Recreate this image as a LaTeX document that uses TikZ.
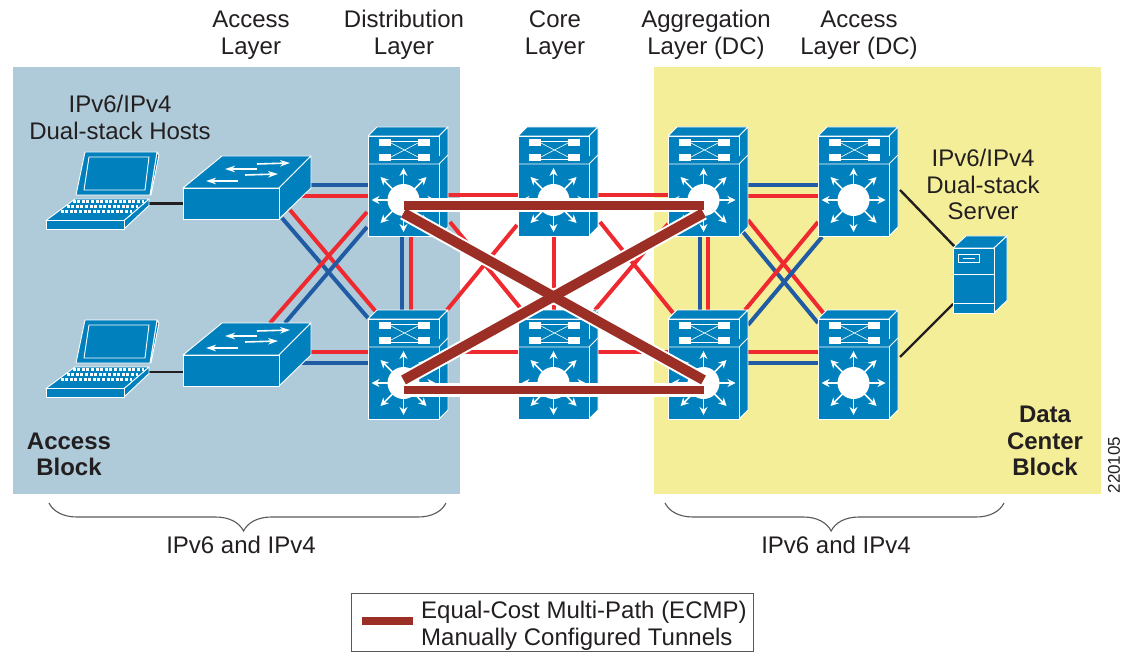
\documentclass[tikz,border=0pt]{standalone}
\usepackage{fontspec}
\setmainfont{Liberation Sans}
\usepackage{tikz}
\usetikzlibrary{positioning,arrows.meta,decorations.pathreplacing}
\definecolor{devblue}{HTML}{0080BC}
\definecolor{blockblue}{HTML}{AFCBD9}
\definecolor{blockyellow}{HTML}{F5EE99}
\definecolor{linkred}{HTML}{EE2A30}
\definecolor{linkblue}{HTML}{1F5CA3}
\definecolor{tunnelred}{HTML}{9C2F25}
\definecolor{inktext}{HTML}{231F20}
\tikzset{
     devface/.style={draw=white, fill=devblue, line width=0.9pt, line join=round},
     whitearrow/.style={draw=white, line width=1.6pt, {Stealth[length=8pt,width=8pt]}-{Stealth[length=8pt,width=8pt]}},
     onearrow/.style={draw=white, line width=1.6pt, -{Stealth[length=10pt,width=6.5pt]}},
     thinwhite/.style={draw=white, line width=0.6pt},
     pics/mlspic/.style={code={
        \draw[devface] (-35.5,-50) -- (-26.5,-59) -- (44.5,-59) -- (35.5,-50) -- cycle;
        \draw[devface] (35.5,-50) -- (44.5,-59) -- (44.5,41) -- (35.5,50) -- cycle;
        \draw[devface] (-35.5,-50) rectangle (35.5,50);
        \draw[devface] (-35.5,-22) -- (35.5,-22) -- (44.5,-31);
        \fill[white] (-24.5,-47) rectangle (-12.5,-40);
        \fill[white] (14.5,-47) rectangle (26.5,-40);
        \fill[white] (-24.5,-32) rectangle (-12.5,-25);
        \fill[white] (14.5,-32) rectangle (26.5,-25);
        \draw[thinwhite] (-12.5,-45) -- (14.5,-45);
        \draw[thinwhite] (-12.5,-27) -- (14.5,-27);
        \draw[thinwhite] (-12.5,-43) -- (14.5,-29);
        \draw[thinwhite] (-12.5,-29) -- (14.5,-43);
        \draw[whitearrow] (0,-18) -- (0,46);
        \draw[whitearrow] (-32,14) -- (32,14);
        \draw[whitearrow] (-23,-9) -- (23,37);
        \draw[whitearrow] (-23,37) -- (23,-9);
        \fill[white] (0,14) circle (16);
     }},
     pics/swpic/.style={code={
        \draw[devface] (-48,-15.5) -- (-9,-47.5) -- (80,-47.5) -- (48,-15.5) -- cycle;
        \draw[devface] (48,-15.5) -- (80,-47.5) -- (80,-15.5) -- (48,15.5) -- cycle;
        \draw[devface] (-48,-15.5) rectangle (48,15.5);
        \draw[onearrow] (26,-39.5) -- (59,-40.5);
        \draw[onearrow] (26,-34.5) -- (-6,-34.5);
        \draw[onearrow] (14,-28.5) -- (47,-29.5);
        \draw[onearrow] (7,-22.5) -- (-25,-22.5);
     }},
     pics/laptoppic/.style={code={
        \draw[devface] (54.5,-38.5) -- (56.5,-35.5) -- (48.5,4.5) -- (47.5,4.5) -- cycle;
        \draw[devface] (-17.5,-38.5) -- (54.5,-38.5) -- (47.5,4.5) -- (-26.5,4.5) -- cycle;
        \draw[thinwhite, line width=0.9pt] (-13.5,-33.5) -- (46.5,-33.5) -- (42.5,-0.5) -- (-18.5,-0.5) -- cycle;
        \draw[devface] (21.5,30) -- (46.5,8.5) -- (46.5,15) -- (21.5,38.5) -- cycle;
        \draw[devface] (-27.5,8.5) -- (46.5,8.5) -- (21.5,30) -- (-56.5,30) -- cycle;
        \draw[devface] (-56.5,30) rectangle (21.5,38.5);
        \draw[draw=white, line width=3pt, dash pattern=on 3pt off 1.6pt] (-30,11) -- (41,11);
        \draw[draw=white, line width=3pt, dash pattern=on 3pt off 1.6pt] (-36,16) -- (35,16);
        \draw[draw=white, line width=3pt, dash pattern=on 3pt off 1.6pt] (-42,21) -- (29,21);
     }},
     pics/serverpic/.style={code={
        \draw[devface] (-20.5,-32.5) -- (-7.5,-44.5) -- (33.5,-44.5) -- (20.5,-32.5) -- cycle;
        \draw[devface] (20.5,-32.5) -- (33.5,-44.5) -- (33.5,20) -- (20.5,32.5) -- cycle;
        \draw[devface] (-20.5,-32.5) rectangle (20.5,32.5);
        \draw[thinwhite, line width=1pt] (-20.5,-6.5) -- (20.5,-6.5);
        \draw[thinwhite, line width=1pt] (-20.5,22.5) -- (20.5,22.5);
        \draw[thinwhite, line width=0.8pt] (-15.5,-26.5) rectangle (5.5,-18.5);
        \draw[thinwhite, line width=0.8pt] (-11,-22.5) -- (1,-22.5);
     }}
     }
\tikzstyle{mls} = [rectangle, inner sep=0pt, outer sep=0pt, minimum width=71pt, minimum height=100pt]
\tikzstyle{sw} = [rectangle, inner sep=0pt, outer sep=0pt, minimum width=96pt, minimum height=31pt]
\tikzstyle{host} = [rectangle, inner sep=0pt, outer sep=0pt, minimum width=113pt, minimum height=77pt]
\tikzstyle{srv} = [rectangle, inner sep=0pt, outer sep=0pt, minimum width=41pt, minimum height=65pt]
\tikzstyle{redlink} = [draw=linkred, line width=4pt]
\tikzstyle{bluelink} = [draw=linkblue, line width=4pt]
\tikzstyle{lan} = [draw=inktext, line width=2.4pt]
\tikzstyle{tunnel} = [draw=tunnelred, line width=8.4pt]
\tikzstyle{crosstunnel} = [draw=tunnelred, line width=10pt]
\tikzstyle{halo} = [draw=white, line width=14pt]
\tikzstyle{lbl} = [text=inktext, align=center, inner sep=0pt, font=\fontsize{24}{26.6}\selectfont]
\tikzstyle{blocklbl} = [lbl, font=\fontsize{24}{26.6}\selectfont\bfseries]
\tikzstyle{bracket} = [draw=inktext!75, line width=1.1pt, decorate, decoration={brace, mirror, amplitude=28pt, aspect=0.49}]

\begin{document}
\begin{tikzpicture}[x=1pt,y=-1pt]
    \useasboundingbox (0,0) rectangle (1131,652);

    \node [fill=blockblue, minimum width=447pt, minimum height=427pt, inner sep=0pt] (accessArea) at (236.5,280.5) {};
    \node [fill=blockyellow, minimum width=447pt, minimum height=427pt, inner sep=0pt] (dcArea) at (877.5,280.5) {};

    \node [mls] (distT) at (403.5,186) {};
    \node [mls,right=79pt of distT] (coreT) {};
    \node [mls,right=79pt of coreT] (aggT) {};
    \node [mls,right=79pt of aggT] (accT) {};
    \node [mls,below=83pt of distT] (distB) {};
    \node [mls,below=83pt of coreT] (coreB) {};
    \node [mls,below=83pt of aggT] (aggB) {};
    \node [mls,below=83pt of accT] (accB) {};
    \node [sw] (swT) at (231,203.5) {};
    \node [sw,below=136pt of swT] (swB) {};
    \node [host] (hostT) at (102.5,190.5) {};
    \node [host,below=91pt of hostT] (hostB) {};
    \node [srv] (server) at (973.5,280.5) {};

    \node [lbl] (layerAccess) at (251,35.5) {Access\\Layer};
    \node [lbl] (layerDist) at (404,34.5) {Distribution\\Layer};
    \node [lbl] (layerCore) at (555,35) {Core\\Layer};
    \node [lbl] (layerAgg) at (706,34.5) {Aggregation\\Layer (DC)};
    \node [lbl] (layerDC) at (859,35.5) {Access\\Layer (DC)};
    \node [lbl] (hostsLabel) at (120,117.5) {IPv6/IPv4\\Dual-stack Hosts};
    \node [lbl] (serverLabel) at (983,184.5) {IPv6/IPv4\\Dual-stack\\Server};
    \node [blocklbl] (accessBlock) at (69,454.5) {Access\\Block};
    \node [blocklbl] (dcBlock) at (1045,441) {Data\\Center\\Block};
    \node [lbl] (ipLeft) at (241,545) {IPv6 and IPv4};
    \node [lbl] (ipRight) at (836,545) {IPv6 and IPv4};
    \node [lbl, rotate=90, font=\fontsize{17}{19}\selectfont] (figNumber) at (1114,465) {220105};

    % access block links
    \draw [lan] (hostT.center |- swT.center) -- (swT);
    \draw [lan] ([shift={(0,1.5)}]hostB.center |- swB.center) -- ([shift={(0,1.5)}]swB.center);
    \draw [bluelink] ([shift={(0,-18.5)}]swT.center) -- ([shift={(0,-1)}]distT.center);
    \draw [redlink] ([shift={(0,-7.5)}]swT.center) -- ([shift={(0,10)}]distT.center);
    \draw [redlink] ([shift={(0,-18.5)}]swB.center) -- ([shift={(0,-17)}]distB.center);
    \draw [bluelink] ([shift={(0,-7.5)}]swB.center) -- ([shift={(0,-6)}]distB.center);
    \draw [bluelink] ([shift={(51,14.5)}]swT.center) -- ([shift={(-35.5,-51)}]distB.center);
    \draw [redlink] ([shift={(59,6.5)}]swT.center) -- ([shift={(-26.5,-56)}]distB.center);
    \draw [bluelink] ([shift={(54,-47.5)}]swB.center) -- ([shift={(-36.5,41)}]distT.center);
    \draw [redlink] ([shift={(39,-47.5)}]swB.center) -- ([shift={(-36.5,26)}]distT.center);
    \draw [bluelink] ([shift={(-1.5,0)}]distT.center) -- ([shift={(-1.5,0)}]distB.center);
    \draw [redlink] ([shift={(7.5,0)}]distT.center) -- ([shift={(7.5,0)}]distB.center);

    % core links
    \draw [redlink] ([shift={(0,9)}]distT.center) -- ([shift={(0,9)}]aggT.center);
    \draw [redlink] ([shift={(0,-17)}]distB.center) -- ([shift={(0,-17)}]aggB.center);
    \draw [redlink] (coreT) -- (coreB);
    \draw [redlink] ([shift={(46.5,36)}]distT.center) -- ([shift={(-31.5,-59)}]coreB.center);
    \draw [redlink] ([shift={(-36.5,39)}]coreT.center) -- ([shift={(43.5,-59)}]distB.center);
    \draw [redlink] ([shift={(46.5,36)}]coreT.center) -- ([shift={(-30.5,-56)}]aggB.center);
    \draw [redlink] ([shift={(-35.5,38)}]aggT.center) -- ([shift={(41.5,-59)}]coreB.center);

    % data center links
    \draw [bluelink] ([shift={(0,-1)}]aggT.center) -- ([shift={(0,-1)}]accT.center);
    \draw [redlink] ([shift={(0,10)}]aggT.center) -- ([shift={(0,10)}]accT.center);
    \draw [redlink] ([shift={(0,-17)}]aggB.center) -- ([shift={(0,-17)}]accB.center);
    \draw [bluelink] ([shift={(0,-6)}]aggB.center) -- ([shift={(0,-6)}]accB.center);
    \draw [bluelink] ([shift={(-3.5,0)}]aggT.center) -- ([shift={(-3.5,0)}]aggB.center);
    \draw [redlink] ([shift={(4.5,0)}]aggT.center) -- ([shift={(4.5,0)}]aggB.center);
    \draw [bluelink] ([shift={(39.5,46)}]aggT.center) -- ([shift={(-35.5,-46)}]accB.center);
    \draw [redlink] ([shift={(44.5,34)}]aggT.center) -- ([shift={(-28.5,-54)}]accB.center);
    \draw [bluelink] ([shift={(-31.5,51)}]accT.center) -- ([shift={(44.5,-44)}]aggB.center);
    \draw [redlink] ([shift={(-35.5,36)}]accT.center) -- ([shift={(41.5,-59)}]aggB.center);
    \draw [lan] ([shift={(46.5,4)}]accT.center) -- ([shift={(-18.5,-33.5)}]server.center);
    \draw [lan] ([shift={(46.5,-12)}]accB.center) -- ([shift={(-20.5,23.5)}]server.center);

    \pic at (distT) {mlspic};
    \pic at (coreT) {mlspic};
    \pic at (aggT) {mlspic};
    \pic at (accT) {mlspic};
    \pic at (distB) {mlspic};
    \pic at (coreB) {mlspic};
    \pic at (aggB) {mlspic};
    \pic at (accB) {mlspic};
    \pic at (swT) {swpic};
    \pic at (swB) {swpic};
    \pic at (hostT) {laptoppic};
    \pic at (hostB) {laptoppic};
    \pic at (server) {serverpic};

    % tunnels go over the devices
    \draw [halo] ([shift={(0,19.5)}]distT.center) -- ([shift={(0,19.5)}]aggT.center);
    \draw [halo] ([shift={(0,21)}]distB.center) -- ([shift={(0,21)}]aggB.center);
    \draw [halo] ([shift={(0,27)}]distT.center) -- ([shift={(0,11)}]aggB.center);
    \draw [halo] ([shift={(0,11)}]distB.center) -- ([shift={(0,27)}]aggT.center);
    \draw [tunnel] ([shift={(0,19.5)}]distT.center) -- ([shift={(0,19.5)}]aggT.center);
    \draw [tunnel] ([shift={(0,21)}]distB.center) -- ([shift={(0,21)}]aggB.center);
    \draw [crosstunnel] ([shift={(0,27)}]distT.center) -- ([shift={(0,11)}]aggB.center);
    \draw [crosstunnel] ([shift={(0,11)}]distB.center) -- ([shift={(0,27)}]aggT.center);

    \coordinate (braceLa) at (49,503);
    \coordinate (braceLb) at (446,503);
    \coordinate (braceRa) at (665,503);
    \coordinate (braceRb) at (1004,503);
    \draw [bracket] (braceLa) -- (braceLb);
    \draw [bracket] (braceRa) -- (braceRb);

    \node [draw=inktext!75, line width=1pt, minimum width=402pt, minimum height=58pt, inner sep=0pt] (legendBox) at (552,622.5) {};
    \coordinate (swatchA) at (362,621);
    \coordinate (swatchB) at (413,621);
    \draw [tunnel] (swatchA) -- (swatchB);
    \node [lbl, align=left, anchor=west] (legendText) at (421,625.5) {Equal-Cost Multi-Path (ECMP)\\Manually Configured Tunnels};
\end{tikzpicture}
\end{document}
